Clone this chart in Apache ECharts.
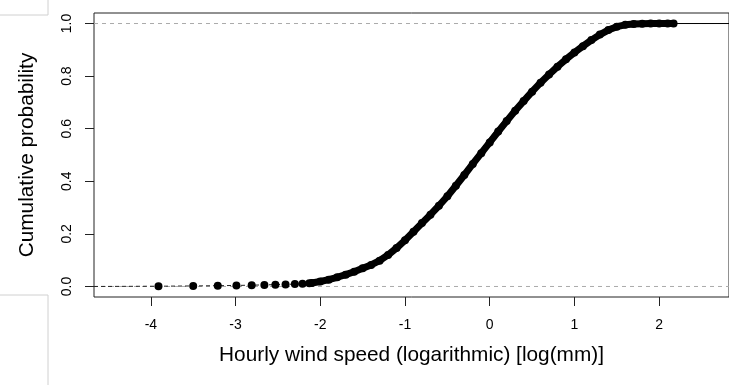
<!DOCTYPE html>
<html><head><meta charset="utf-8">
<script src="https://cdn.jsdelivr.net/npm/echarts@6/dist/echarts.min.js"></script>
<style>html,body{margin:0;padding:0;background:#fff}#c{width:729px;height:385px}</style>
</head><body><div id="c"></div>
<script>
// Sparse lower tail of the empirical CDF (individual points)
const tailX = [-3.91,-3.50,-3.21,-2.99,-2.81,-2.66,-2.53,-2.41,-2.30,-2.21,-2.13];
const tailY = [0.001,0.002,0.003,0.004,0.005,0.006,0.007,0.008,0.009,0.010,0.012];
// Dense part of the empirical CDF
const ecdfX = [-2.1,-2.0,-1.9,-1.8,-1.7,-1.6,-1.5,-1.4,-1.3,-1.2,-1.1,-1.0,-0.9,-0.8,-0.7,-0.6,-0.5,-0.4,-0.3,-0.2,-0.1,0.0,0.1,0.2,0.3,0.4,0.5,0.6,0.7,0.8,0.9,1.0,1.1,1.2,1.3,1.4,1.5,1.6,1.7,1.8,1.9,2.0,2.1,2.17];
const ecdfY = [0.013,0.019,0.026,0.035,0.045,0.056,0.069,0.082,0.098,0.120,0.146,0.176,0.208,0.241,0.273,0.307,0.343,0.383,0.424,0.466,0.507,0.548,0.589,0.629,0.668,0.705,0.741,0.775,0.806,0.836,0.864,0.890,0.914,0.937,0.958,0.975,0.988,0.995,0.998,0.999,1.0,1.0,1.0,1.0];
// Thin fitted CDF line
const fitX = [-2.2,-2.0,-1.8,-1.6,-1.4,-1.2,-1.0,-0.8,-0.6,-0.4,-0.2,0.0,0.2,0.4,0.6,0.8,1.0,1.2,1.4,1.6,1.8,2.0];
const fitY = [0.008,0.018,0.034,0.055,0.081,0.117,0.165,0.228,0.295,0.378,0.472,0.565,0.645,0.714,0.777,0.836,0.890,0.937,0.975,0.995,0.999,1.0];
const xTicks = [-4,-3,-2,-1,0,1,2];
const yTicks = [0,0.2,0.4,0.6,0.8,1.0];
const xMin = -4.671, xMax = 2.824;

const zip = (a,b) => a.map((v,i)=>[v,b[i]]);
const chart = echarts.init(document.getElementById('c'));
const font = 'Liberation Sans, Arial, sans-serif';
chart.setOption({
  animation:false,
  backgroundColor:'#fff',
  grid:{left:94,top:13,right:-2,bottom:88,show:true,borderColor:'#222',borderWidth:1,backgroundColor:'transparent'},
  xAxis:{type:'value',min:xMin,max:xMax,
    axisLine:{show:false,onZero:false},splitLine:{show:false},
    axisTick:{show:true,inside:false,length:9,lineStyle:{color:'#222'},customValues:xTicks},
    axisLabel:{customValues:xTicks,margin:21,color:'#000',fontSize:14,fontFamily:font},
    name:'Hourly wind speed (logarithmic) [log(mm)]',nameLocation:'middle',nameGap:48,
    nameTextStyle:{color:'#000',fontSize:20.8,fontFamily:font}},
  yAxis:{type:'value',min:-0.04,max:1.04,
    axisLine:{show:false,onZero:false},splitLine:{show:false},
    axisTick:{show:true,length:9,lineStyle:{color:'#222'},customValues:yTicks},
    axisLabel:{customValues:yTicks,rotate:90,margin:20,color:'#000',fontSize:14,fontFamily:font,
      formatter:v=>v.toFixed(1)},
    name:'Cumulative probability',nameLocation:'middle',nameGap:56,
    nameTextStyle:{color:'#000',fontSize:20.8,fontFamily:font}},
  series:[
    {type:'line',data:[[xMin,0],[xMax,0]],symbol:'none',lineStyle:{color:'#aaa',width:1,type:[4,4]},z:1,silent:true},
    {type:'line',data:[[xMin,1],[xMax,1]],symbol:'none',lineStyle:{color:'#aaa',width:1,type:[4,4]},z:1,silent:true},
    {type:'line',data:[[xMin,0]].concat(zip(tailX,tailY)),symbol:'none',lineStyle:{color:'#222',width:1,type:[4,3]},z:2},
    {type:'line',data:[[ecdfX[ecdfX.length-1],1],[xMax,1]],symbol:'none',lineStyle:{color:'#000',width:1},z:2},
    {type:'line',data:zip(fitX,fitY),symbol:'none',smooth:true,lineStyle:{color:'#777',width:1},z:3},
    {type:'line',data:zip(ecdfX,ecdfY),symbol:'circle',symbolSize:8,showSymbol:true,
      itemStyle:{color:'#000',opacity:1},lineStyle:{color:'#000',width:7,cap:'round',join:'round'},z:4},
    {type:'scatter',data:zip(tailX,tailY),symbol:'circle',symbolSize:8,itemStyle:{color:'#000',opacity:1},z:5}
  ],
  graphic:[
    {type:'polyline',shape:{points:[[0,15],[48,15],[48,0]]},style:{stroke:'#d0d0d0',lineWidth:1,fill:null}},
    {type:'polyline',shape:{points:[[0,295],[48,295],[48,385]]},style:{stroke:'#d0d0d0',lineWidth:1,fill:null}}
  ]
});
</script></body></html>
